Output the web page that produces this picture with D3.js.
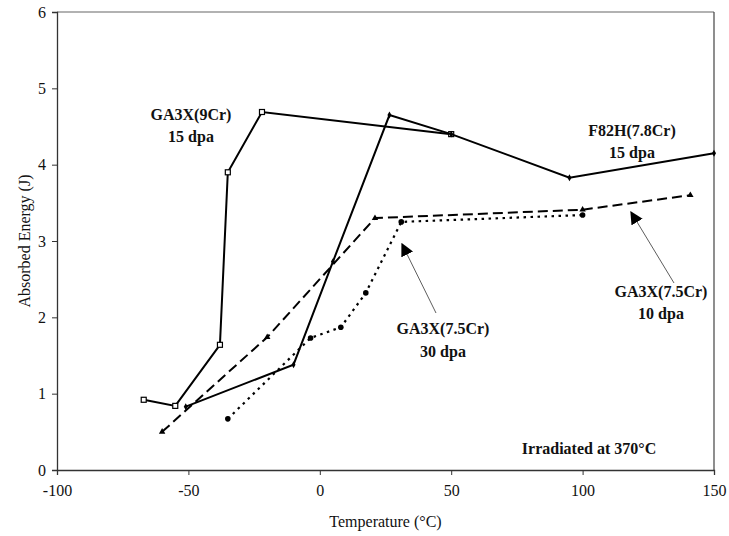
<!DOCTYPE html>
<html>
<head>
<meta charset="utf-8">
<script src="https://cdn.jsdelivr.net/npm/d3@7"></script>
<style>
	body { margin: 0; background: #fff; }
	svg { display: block; }
	text { font-family: "Liberation Serif", "Times New Roman", serif; fill: #111; }
</style>
</head>
<body>
<div id="container"></div>
<script>
"use strict";

// data (temperature in °C, absorbed energy in J)
const ga9Temp = [-67, -55, -38, -35, -22, 50];
const ga9Energy = [0.92, 0.84, 1.64, 3.9, 4.69, 4.4];

const f82hTemp = [-51, -10, 5, 26.5, 50, 95, 150];
const f82hEnergy = [0.83, 1.38, 2.73, 4.65, 4.4, 3.83, 4.15];

const ga75_10Temp = [-60, -20, 21, 100, 141];
const ga75_10Energy = [0.5, 1.74, 3.3, 3.41, 3.6];

const ga75_30Temp = [-35, -3.5, 8, 17.5, 31, 100];
const ga75_30Energy = [0.67, 1.73, 1.87, 2.32, 3.25, 3.34];

const xTicks = [-100, -50, 0, 50, 100, 150];
const yTicks = [0, 1, 2, 3, 4, 5, 6];

const width = 729,
	height = 536;
const margin = { left: 57, right: 15, top: 12, bottom: 66 };

const svg = d3
	.select("#container")
	.append("svg")
	.attr("width", width)
	.attr("height", height);

const x = d3
	.scaleLinear()
	.domain([-100, 150])
	.range([margin.left, width - margin.right]);
const y = d3
	.scaleLinear()
	.domain([0, 6])
	.range([height - margin.bottom, margin.top]);

// plot frame (top + right are light)
svg.append("line")
	.attr("x1", x(-100)).attr("x2", x(150))
	.attr("y1", y(6)).attr("y2", y(6))
	.attr("stroke", "#666").attr("stroke-width", 1.2);
svg.append("line")
	.attr("x1", x(150)).attr("x2", x(150))
	.attr("y1", y(6)).attr("y2", y(0))
	.attr("stroke", "#444").attr("stroke-width", 1.2);

// axes - plain hyphen for negatives, like the original
const xAxis = svg
	.append("g")
	.attr("transform", `translate(0,${y(0)})`)
	.call(d3.axisBottom(x).tickValues(xTicks).tickSize(5).tickPadding(10).tickFormat((d) => String(d)));
const yAxis = svg
	.append("g")
	.attr("transform", `translate(${x(-100)},0)`)
	.call(d3.axisLeft(y).tickValues(yTicks).tickSize(5).tickPadding(6).tickFormat((d) => String(d)));

[xAxis, yAxis].forEach((g) => {
	g.select(".domain").attr("stroke", "#333").attr("stroke-width", 1.3);
	g.selectAll(".tick line").attr("stroke", "#333");
	g.selectAll("text")
		.attr("font-size", 16)
		.attr("font-family", "Liberation Serif")
		.attr("fill", "#111");
});

// axis titles
svg.append("text")
	.attr("x", x(25))
	.attr("y", 527)
	.attr("text-anchor", "middle")
	.attr("font-size", 16)
	.text("Temperature (°C)");
svg.append("text")
	.attr("transform", `translate(30,${y(3)}) rotate(-90)`)
	.attr("text-anchor", "middle")
	.attr("font-size", 16)
	.text("Absorbed Energy (J)");

const line = d3
	.line()
	.x((d) => x(d[0]))
	.y((d) => y(d[1]));

function series(temps, energies, dash, width) {
	const pts = d3.zip(temps, energies);
	svg.append("path")
		.datum(pts)
		.attr("d", line)
		.attr("fill", "none")
		.attr("stroke", "#000")
		.attr("stroke-width", width)
		.attr("stroke-dasharray", dash);
	return pts;
}

// GA3X(9Cr) 15 dpa - solid, hollow squares
const ga9 = series(ga9Temp, ga9Energy, null, 2);
svg.selectAll(".sq")
	.data(ga9)
	.enter()
	.append("rect")
	.attr("x", (d) => x(d[0]) - 2.5)
	.attr("y", (d) => y(d[1]) - 2.5)
	.attr("width", 5)
	.attr("height", 5)
	.attr("fill", "#fff")
	.attr("stroke", "#000")
	.attr("stroke-width", 1.2);

// F82H(7.8Cr) 15 dpa - solid, small diamonds
const f82h = series(f82hTemp, f82hEnergy, null, 2);
svg.selectAll(".dm")
	.data(f82h)
	.enter()
	.append("path")
	.attr("d", d3.symbol(d3.symbolDiamond, 14))
	.attr("transform", (d) => `translate(${x(d[0])},${y(d[1])})`)
	.attr("fill", "#000");

// GA3X(7.5Cr) 10 dpa - dashed, triangles
const ga10 = series(ga75_10Temp, ga75_10Energy, "10,5", 2);
svg.selectAll(".tr")
	.data(ga10)
	.enter()
	.append("path")
	.attr("d", d3.symbol(d3.symbolTriangle, 18))
	.attr("transform", (d) => `translate(${x(d[0])},${y(d[1])})`)
	.attr("fill", "#000");

// GA3X(7.5Cr) 30 dpa - dotted, filled circles
const ga30 = series(ga75_30Temp, ga75_30Energy, "2.5,4.5", 2.2);
svg.selectAll(".ci")
	.data(ga30)
	.enter()
	.append("circle")
	.attr("cx", (d) => x(d[0]))
	.attr("cy", (d) => y(d[1]))
	.attr("r", 2.8)
	.attr("fill", "#000");

// arrows
svg.append("defs")
	.append("marker")
	.attr("id", "head")
	.attr("viewBox", "0 0 10 10")
	.attr("refX", 9)
	.attr("refY", 5)
	.attr("markerWidth", 13)
	.attr("markerHeight", 13)
	.attr("markerUnits", "userSpaceOnUse")
	.attr("orient", "auto")
	.append("path")
	.attr("d", "M0,0 L10,5 L0,10 z")
	.attr("fill", "#000");

const arrows = [
	[[436, 313], [402, 244]],
	[[674, 283], [631, 212]],
];
arrows.forEach((a) => {
	svg.append("line")
		.attr("x1", a[0][0]).attr("y1", a[0][1])
		.attr("x2", a[1][0]).attr("y2", a[1][1])
		.attr("stroke", "#333")
		.attr("stroke-width", 0.8)
		.attr("marker-end", "url(#head)");
});

// annotations
const labels = [
	[191, 120, "GA3X(9Cr)"],
	[191, 142, "15 dpa"],
	[632, 136, "F82H(7.8Cr)"],
	[632, 158, "15 dpa"],
	[443, 334, "GA3X(7.5Cr)"],
	[443, 357, "30 dpa"],
	[661, 297, "GA3X(7.5Cr)"],
	[661, 319, "10 dpa"],
	[589, 454, "Irradiated at 370°C"],
];
labels.forEach((l) => {
	svg.append("text")
		.attr("x", l[0])
		.attr("y", l[1])
		.attr("text-anchor", "middle")
		.attr("font-size", 16)
		.attr("font-weight", "bold")
		.text(l[2]);
});
</script>
</body>
</html>
